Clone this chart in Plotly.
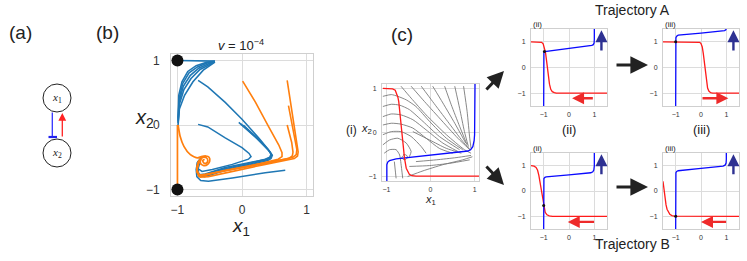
import plotly.graph_objects as go

W, H = 747, 261

# ---------------- Panel (b) data: trajectories (v = 1e-4) ----------------
B_FAN_X = [[-0.99, -0.98, -0.93, -0.84, -0.71, -0.55, -0.42],
           [-0.99, -0.975, -0.92, -0.82, -0.69, -0.54, -0.42],
           [-0.99, -0.975, -0.91, -0.80, -0.67, -0.52, -0.42],
           [-0.99, -0.97, -0.90, -0.79, -0.65, -0.51, -0.42],
           [-0.99, -0.97, -0.89, -0.76, -0.60, -0.50, -0.42],
           [-0.42, -1.0]]
B_FAN_Y = [[0.10, 0.46, 0.67, 0.83, 0.92, 0.97, 0.99],
           [0.07, 0.40, 0.64, 0.81, 0.90, 0.96, 0.985],
           [0.05, 0.35, 0.60, 0.77, 0.88, 0.95, 0.98],
           [0.03, 0.32, 0.55, 0.72, 0.86, 0.94, 0.98],
           [0.0, 0.25, 0.46, 0.67, 0.85, 0.92, 0.975],
           [0.99, 1.0]]

B_BLUE_X = [[-0.68, -0.53, -0.26, 0.0, 0.26, 0.40, 0.45, 0.44, 0.38, 0.10, -0.26, -0.57, -0.66, -0.70, -0.69, -0.64],
            [-0.68, -0.53, -0.26, 0.0, 0.11, 0.14, 0.10, -0.15, -0.46, -0.62, -0.69, -0.68, -0.64],
            [0.67, 0.36, -0.15, -0.52, -0.64, -0.70, -0.71, -0.69, -0.63],
            [-0.02, 0.25, 0.42, 0.46, 0.44, 0.38, 0.10, -0.30, -0.60, -0.68, -0.69, -0.66],
            [0.02, 0.28, 0.43, 0.47, 0.45, 0.40, 0.12, -0.28, -0.58, -0.67, -0.68, -0.65],
            [-0.05, 0.22, 0.41, 0.45, 0.43, 0.36, 0.08, -0.32, -0.61, -0.69, -0.70, -0.67]]
B_BLUE_Y = [[0.69, 0.59, 0.35, 0.09, -0.20, -0.37, -0.45, -0.50, -0.53, -0.59, -0.66, -0.76, -0.77, -0.70, -0.58, -0.52],
            [0.01, -0.03, -0.20, -0.35, -0.44, -0.49, -0.53, -0.61, -0.69, -0.72, -0.67, -0.57, -0.52],
            [-0.70, -0.74, -0.82, -0.87, -0.86, -0.80, -0.69, -0.58, -0.51],
            [0.02, -0.22, -0.40, -0.46, -0.51, -0.54, -0.61, -0.70, -0.79, -0.77, -0.67, -0.56],
            [0.0, -0.24, -0.41, -0.47, -0.52, -0.55, -0.62, -0.71, -0.80, -0.78, -0.68, -0.57],
            [0.04, -0.20, -0.39, -0.45, -0.50, -0.53, -0.60, -0.69, -0.78, -0.76, -0.66, -0.55]]

B_ORANGE_X = [[0.01, 0.21, 0.41, 0.57, 0.62, 0.62, 0.56, 0.10, -0.41, -0.62, -0.68, -0.70, -0.68, -0.64],
              [0.70, 0.77, 0.85, 0.87, 0.86, 0.81, 0.36, -0.15, -0.52, -0.65, -0.70, -0.69, -0.66],
              [0.70, 0.77, 0.79, 0.78, 0.72, 0.26, -0.26, -0.55, -0.67, -0.70, -0.68, -0.65],
              [0.72, 0.80, 0.85, 0.84, 0.79, 0.40, -0.10, -0.50, -0.66, -0.70, -0.68]]
B_ORANGE_Y = [[0.68, 0.35, -0.02, -0.31, -0.43, -0.49, -0.53, -0.64, -0.74, -0.79, -0.76, -0.66, -0.57, -0.52],
              [0.69, 0.24, -0.22, -0.42, -0.48, -0.52, -0.61, -0.72, -0.80, -0.81, -0.73, -0.62, -0.55],
              [0.0, -0.27, -0.42, -0.48, -0.52, -0.61, -0.70, -0.77, -0.79, -0.71, -0.62, -0.55],
              [0.30, -0.10, -0.38, -0.46, -0.50, -0.59, -0.68, -0.76, -0.78, -0.70, -0.60]]
B_ORANGE_SPIRAL_X = [-0.99, -0.96, -0.90, -0.80, -0.69, -0.63, -0.56, -0.51, -0.50, -0.53, -0.59, -0.64, -0.64,
                     -0.60, -0.55, -0.53, -0.55, -0.59, -0.61, -0.58]
B_ORANGE_SPIRAL_Y = [0.0, -0.17, -0.33, -0.46, -0.51, -0.49, -0.48, -0.50, -0.56, -0.61, -0.63, -0.60, -0.54,
                     -0.50, -0.51, -0.55, -0.59, -0.59, -0.55, -0.53]
B_ORANGE_VERT_X = [-1.0, -1.0]
B_ORANGE_VERT_Y = [0.0, -1.0]

B_DOTS_X = [-1.0, -1.0]
B_DOTS_Y = [1.0, -1.0]

# ---------------- Panel (c)(i): phase portrait ----------------
I_RED_X = [-1.08, -0.86, -0.80, -0.77, -0.74, -0.72, -0.70, -0.67, -0.63, -0.59, -0.55, -0.51, -0.48, -0.42, -0.33, 1.1]
I_RED_Y = [1.0, 0.99, 0.96, 0.89, 0.80, 0.70, 0.50, 0.17, -0.28, -0.58, -0.81, -0.90, -0.95, -0.98, -0.99, -0.99]
I_BLUE_X = [-0.99, -0.99, -0.97, -0.93, -0.78, -0.02, 0.85, 0.91, 0.96, 0.99, 1.0, 1.01]
I_BLUE_Y = [-1.1, -0.73, -0.67, -0.64, -0.60, -0.51, -0.42, -0.39, -0.32, -0.18, -0.05, 1.1]

STREAM_X = [[-0.67, -0.44, -0.10, 0.36, 0.77, 0.92],
            [-0.44, -0.17, 0.20, 0.62, 0.89],
            [-0.21, 0.05, 0.39, 0.73, 0.90],
            [0.05, 0.28, 0.55, 0.80],
            [0.32, 0.47, 0.66, 0.83],
            [0.55, 0.66, 0.77, 0.86],
            [0.75, 0.83, 0.89, 0.92],
            [-1.08, -0.89, -0.74, -0.55, -0.33, -0.02, 0.36, 0.73],
            [-1.08, -0.89, -0.70, -0.48, -0.17, 0.20, 0.66],
            [-1.08, -0.89, -0.67, -0.40, -0.10, 0.28, 0.62],
            [-1.08, -0.89, -0.67, -0.40, -0.10, 0.20, 0.50],
            [-1.08, -0.89, -0.67, -0.44, -0.21, -0.10],
            [-1.08, -0.93, -0.74, -0.55, -0.44, -0.48],
            [-1.05, -0.93, -0.78, -0.70, -0.67, -0.63],
            [-0.82, -0.80, -0.78],
            [-0.52, -0.17, 0.28, 0.73, 0.95],
            [-0.33, 0.13, 0.58, 0.92],
            [-0.48, -0.02, 0.43, 0.89],
            [-0.40, -0.02, 0.36, 0.70],
            [-0.62, -0.55, -0.52, -0.56, -0.62, -0.65, -0.61]]
STREAM_Y = [[1.05, 0.78, 0.40, -0.05, -0.39, -0.47],
            [1.05, 0.74, 0.33, -0.13, -0.39],
            [1.05, 0.70, 0.25, -0.20, -0.39],
            [1.05, 0.67, 0.21, -0.24],
            [1.05, 0.63, 0.14, -0.28],
            [1.05, 0.55, 0.02, -0.32],
            [1.05, 0.48, -0.13, -0.36],
            [0.82, 0.86, 0.82, 0.74, 0.59, 0.25, -0.13, -0.39],
            [0.59, 0.64, 0.62, 0.52, 0.25, -0.09, -0.39],
            [0.36, 0.42, 0.40, 0.29, 0.06, -0.24, -0.43],
            [0.17, 0.21, 0.19, 0.10, -0.13, -0.36, -0.47],
            [-0.05, 0.02, 0.02, -0.09, -0.32, -0.47],
            [-0.28, -0.17, -0.13, -0.24, -0.43, -0.55],
            [-0.47, -0.39, -0.39, -0.51, -0.70, -1.04],
            [-0.66, -0.85, -1.04],
            [-1.0, -0.87, -0.73, -0.62, -0.55],
            [-0.66, -0.62, -0.57, -0.52],
            [-0.77, -0.75, -0.70, -0.62],
            [0.02, -0.17, -0.36, -0.47],
            [-0.50, -0.51, -0.56, -0.61, -0.61, -0.56, -0.52]]

# ---------------- Panel (c) small panels ----------------
TA2_RED_X = [-1.5, -1.15, -1.08, -1.02, -0.97, -0.93, -0.89, -0.85, -0.81, -0.77, -0.72, -0.66, -0.58, -0.5, 1.5]
TA2_RED_Y = [1.0, 1.0, 0.98, 0.92, 0.78, 0.6, 0.3, -0.05, -0.4, -0.65, -0.85, -0.94, -0.98, -1.0, -1.0]
TA2_BLUE_X = [-1.0, -1.0, -0.99, -0.96, -0.5, 0.0, 0.5, 0.9, 0.96, 0.99, 1.0, 1.0]
TA2_BLUE_Y = [-1.5, 0.52, 0.58, 0.62, 0.68, 0.74, 0.80, 0.86, 0.89, 0.95, 1.1, 1.5]
TA2_DOT = (-0.97, 0.62)

TA3_RED_X = [-1.5, -0.13, -0.05, 0.0, 0.05, 0.09, 0.13, 0.17, 0.21, 0.26, 0.31, 0.38, 0.46, 1.5]
TA3_RED_Y = [1.0, 1.0, 0.98, 0.93, 0.8, 0.55, 0.2, -0.2, -0.55, -0.8, -0.92, -0.98, -1.0, -1.0]
TA3_BLUE_X = [-1.0, -1.0, -0.99, -0.96, -0.9, 0.0, 0.8, 0.93, 0.98, 1.0]
TA3_BLUE_Y = [-1.5, 1.08, 1.16, 1.22, 1.26, 1.34, 1.41, 1.44, 1.47, 1.52]
TA3_DOT = (-1.0, 1.0)

TB2_RED_X = [-1.5, -1.38, -1.3, -1.24, -1.19, -1.15, -1.11, -1.07, -1.03, -0.99, -0.94, -0.87, -0.78, -0.65, 1.5]
TB2_RED_Y = [1.0, 0.98, 0.93, 0.82, 0.62, 0.38, 0.08, -0.2, -0.45, -0.66, -0.84, -0.94, -0.98, -1.0, -1.0]
TB2_BLUE_X = [-1.0, -1.0, -0.99, -0.95, -0.9, 0.0, 0.86, 0.94, 0.98, 1.0, 1.0]
TB2_BLUE_Y = [-1.5, 0.42, 0.49, 0.54, 0.56, 0.64, 0.72, 0.76, 0.83, 1.0, 1.5]
TB2_DOT = (-1.0, -0.57)

TB3_RED_X = [-1.5, -1.47, -1.44, -1.41, -1.38, -1.34, -1.29, -1.23, -1.15, -1.06, 1.5]
TB3_RED_Y = [0.38, 0.12, -0.12, -0.35, -0.55, -0.72, -0.84, -0.92, -0.97, -0.99, -1.0]
TB3_BLUE_X = [-1.0, -1.0, -0.99, -0.96, -0.9, 0.0, 0.87, 0.95, 0.99, 1.0, 1.0]
TB3_BLUE_Y = [-1.5, 0.65, 0.72, 0.77, 0.80, 0.89, 0.98, 1.02, 1.1, 1.25, 1.5]
TB3_DOT = (-1.0, -1.0)

TICKS = [-1, 0, 1]
TICK_TEXT = ["\u22121", "0", "1"]

BLUE_T = "#1f77b4"
ORANGE_T = "#ff7f0e"
RED = "#ff1a1a"
BLUE = "#0a0aff"
ARROW_BLUE = "#2e3192"
ARROW_RED = "#ee2a2a"
FONT = "Liberation Sans, Arial, sans-serif"


def px(x):
    return x / W


def py(y):
    return 1 - y / H


fig = go.Figure()

# axes configuration: (name, left, right, top, bottom, range, tickfont size, x standoff, y standoff)
AXES = [
    ("", 171, 313, 54, 196, [-1.1, 1.1], 12, 3, 8),
    ("2", 382, 479, 84, 181, [-1.1, 1.1], 7, 2, 3),
    ("3", 531, 607, 29, 106, [-1.5, 1.5], 7, 2, 3),
    ("4", 663, 739, 29, 106, [-1.5, 1.5], 7, 2, 3),
    ("5", 531, 607, 153, 229, [-1.5, 1.5], 7, 2, 3),
    ("6", 663, 739, 153, 229, [-1.5, 1.5], 7, 2, 3),
]
layout_axes = {}
for name, l, r, t, b, rng, fs, xs_, ys_ in AXES:
    common = dict(range=rng, showgrid=True, gridcolor="#dcdcdc", gridwidth=1,
                  zeroline=False, showline=True, linecolor="#cfcfcf", linewidth=1,
                  mirror=True, ticks="", tickvals=TICKS, ticktext=TICK_TEXT,
                  tickfont=dict(size=fs, color="#333333", family=FONT),
                  fixedrange=True)
    layout_axes["xaxis" + name] = dict(domain=[px(l), px(r)], anchor="y" + name,
                                       ticklabelstandoff=xs_, **common)
    layout_axes["yaxis" + name] = dict(domain=[py(b), py(t)], anchor="x" + name,
                                       ticklabelstandoff=ys_, **common)


def line(xs, ys, color, width, axis="", shape="linear"):
    fig.add_trace(go.Scatter(x=xs, y=ys, mode="lines",
                             line=dict(color=color, width=width, shape=shape, smoothing=0.6),
                             xaxis="x" + axis, yaxis="y" + axis,
                             hoverinfo="skip"))


# ---- (b)
for xs, ys in zip(B_FAN_X, B_FAN_Y):
    line(xs, ys, BLUE_T, 1.6)
for xs, ys in zip(B_BLUE_X, B_BLUE_Y):
    line(xs, ys, BLUE_T, 1.5)
for xs, ys in zip(B_ORANGE_X, B_ORANGE_Y):
    line(xs, ys, ORANGE_T, 1.6)
line(B_ORANGE_SPIRAL_X, B_ORANGE_SPIRAL_Y, ORANGE_T, 1.7, "", "spline")
line(B_ORANGE_VERT_X, B_ORANGE_VERT_Y, ORANGE_T, 1.7)
fig.add_trace(go.Scatter(x=B_DOTS_X, y=B_DOTS_Y, mode="markers",
                         marker=dict(size=12, color="#111111"), hoverinfo="skip"))

# ---- (c)(i)
for xs, ys in zip(STREAM_X, STREAM_Y):
    line(xs, ys, "#7a7a7a", 0.9, "2", "spline")
line(I_BLUE_X, I_BLUE_Y, BLUE, 1.3, "2")
line(I_RED_X, I_RED_Y, RED, 1.3, "2")

# ---- small panels
SMALL = [("3", TA2_RED_X, TA2_RED_Y, TA2_BLUE_X, TA2_BLUE_Y, TA2_DOT),
         ("4", TA3_RED_X, TA3_RED_Y, TA3_BLUE_X, TA3_BLUE_Y, TA3_DOT),
         ("5", TB2_RED_X, TB2_RED_Y, TB2_BLUE_X, TB2_BLUE_Y, TB2_DOT),
         ("6", TB3_RED_X, TB3_RED_Y, TB3_BLUE_X, TB3_BLUE_Y, TB3_DOT)]
for ax, rx, ry, bx, by, dot in SMALL:
    line(rx, ry, RED, 1.3, ax)
    line(bx, by, BLUE, 1.3, ax)
    fig.add_trace(go.Scatter(x=[dot[0]], y=[dot[1]], mode="markers",
                             marker=dict(size=3, color="#111111"),
                             xaxis="x" + ax, yaxis="y" + ax, hoverinfo="skip"))

ann = []


def text(x, y, s, size, family=FONT, color="#222222", xanchor="center"):
    ann.append(dict(x=px(x), y=py(y), xref="paper", yref="paper", text=s,
                    showarrow=False, xanchor=xanchor, yanchor="middle",
                    font=dict(size=size, family=family, color=color)))


def parrow(x0, y0, x1, y1, color, width, size=1.0):
    # head at (x1, y1), tail given as pixel offset
    ann.append(dict(x=px(x1), y=py(y1), ax=x0 - x1, ay=y0 - y1, xref="paper", yref="paper",
                    axref="pixel", ayref="pixel", text="", showarrow=True,
                    arrowhead=2, arrowsize=size, arrowwidth=width, arrowcolor=color))


def darrow(ax_, x0, y0, x1, y1, color, width=2.4, size=1.0):
    ann.append(dict(x=x1, y=y1, ax=x0, ay=y0, xref="x" + ax_, yref="y" + ax_,
                    axref="x" + ax_, ayref="y" + ax_, text="", showarrow=True,
                    arrowhead=2, arrowsize=size, arrowwidth=width, arrowcolor=color))


# panel letters
text(20, 33, "(a)", 19)
text(107, 33, "(b)", 19)
text(402, 34, "(c)", 19)

# (a) network diagram text
text(57, 98, "<i>x</i><sub>1</sub>", 11, family="Liberation Serif, serif")
text(57, 153, "<i>x</i><sub>2</sub>", 11, family="Liberation Serif, serif")
parrow(62.3, 138, 62.3, 113, "#ff2222", 1.3, 1.2)

# (b) labels
text(241, 45, "<i>v</i> = 10<sup>\u22124</sup>", 13)
text(241, 227, "<i>x</i><sub>1</sub>", 19)
text(144, 118, "<i>x</i><sub>2</sub>", 20)

# (c)(i) labels
text(431, 200, "<i>x</i><sub>1</sub>", 11)
text(366, 129, "<i>x</i><sub>2</sub>", 11)
text(351, 130, "(i)", 12)

# small panel labels
text(531, 24, "(ii)", 8, xanchor="left")
text(663, 24, "(iii)", 8, xanchor="left")
text(531, 148, "(ii)", 8, xanchor="left")
text(663, 148, "(iii)", 8, xanchor="left")
text(569, 129, "(ii)", 13)
text(701, 129, "(iii)", 13)
text(632, 10, "Trajectory A", 14)
text(632, 244, "Trajectory B", 14)

# big black arrows
parrow(485, 91, 504, 71, "#222222", 3, 1.1)
parrow(485, 165, 504, 185, "#222222", 3, 1.1)
parrow(615, 65, 648, 65, "#222222", 3.2, 1.1)
parrow(615, 187, 648, 187, "#222222", 3.2, 1.1)

# colored arrows inside small panels
darrow("3", 1.0, -1.2, 0.12, -1.2, ARROW_RED)
darrow("3", 1.28, 0.6, 1.28, 1.45, ARROW_BLUE)
darrow("4", 0.0, -1.2, 1.08, -1.2, ARROW_RED)
darrow("4", 1.28, 0.6, 1.28, 1.45, ARROW_BLUE)
darrow("5", 1.05, -1.22, -0.05, -1.22, ARROW_RED)
darrow("5", 1.28, 0.6, 1.28, 1.45, ARROW_BLUE)
darrow("6", 1.05, -1.22, 0.0, -1.22, ARROW_RED)
darrow("6", 1.28, 0.6, 1.28, 1.45, ARROW_BLUE)

shapes = [
    dict(type="circle", xref="paper", yref="paper", x0=px(43), x1=px(71), y0=py(112), y1=py(84),
         line=dict(color="#222222", width=1)),
    dict(type="circle", xref="paper", yref="paper", x0=px(43), x1=px(71), y0=py(167), y1=py(139),
         line=dict(color="#222222", width=1)),
    dict(type="line", xref="paper", yref="paper", x0=px(52.3), x1=px(52.3), y0=py(112.5), y1=py(137),
         line=dict(color="#3333ff", width=1.3)),
    dict(type="line", xref="paper", yref="paper", x0=px(48.5), x1=px(57), y0=py(137), y1=py(137),
         line=dict(color="#2222ee", width=2.2)),
]

fig.update_layout(width=W, height=H, margin=dict(l=0, r=0, t=0, b=0),
                  paper_bgcolor="white", plot_bgcolor="white", showlegend=False,
                  hovermode=False,
                  annotations=ann, shapes=shapes, **layout_axes)

fig.write_html("out.html", config={"displayModeBar": False},
               post_script="document.body.style.margin='0px';")
